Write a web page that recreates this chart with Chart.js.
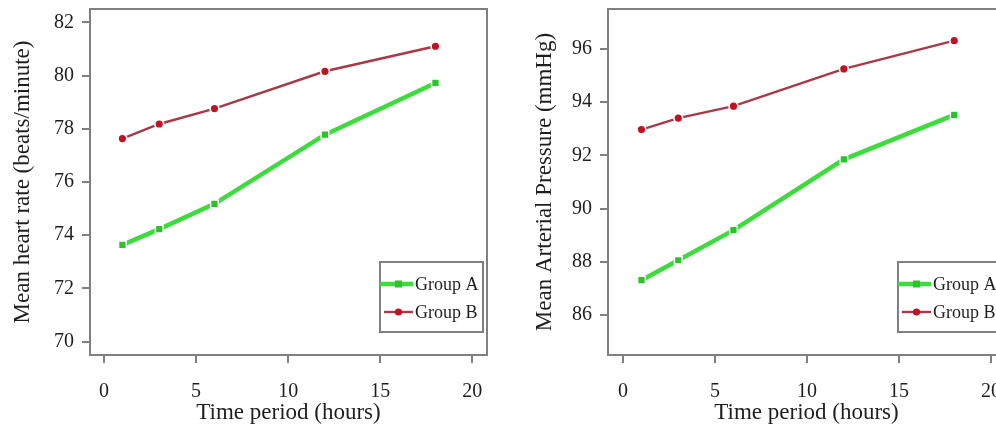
<!DOCTYPE html>
<html>
<head>
<meta charset="utf-8">
<script src="https://cdn.jsdelivr.net/npm/chart.js@4"></script>
<style>
  html, body { margin:0; padding:0; background:#fff; overflow:hidden; width:996px; height:427px; }
  #c1 { position:absolute; left:0; top:0; }
  #c2 { position:absolute; left:500px; top:0; }
</style>
</head>
<body>
<canvas id="c1" width="500" height="427"></canvas>
<canvas id="c2" width="520" height="427"></canvas>
<script>
const hours = [1, 3, 6, 12, 18];
const heartA = [73.64, 74.23, 75.18, 77.78, 79.72];
const heartB = [77.63, 78.18, 78.76, 80.16, 81.10];
const mapA = [87.31, 88.06, 89.19, 91.85, 93.52];
const mapB = [92.97, 93.40, 93.85, 95.25, 96.31];
const xTicks = [0, 5, 10, 15, 20];
const heartTicks = [70, 72, 74, 76, 78, 80, 82];
const mapTicks = [86, 88, 90, 92, 94, 96];
const seriesLabels = ['Group A', 'Group B'];
const xTitle = 'Time period (hours)';
const heartTitle = 'Mean heart rate (beats/minute)';
const mapTitle = 'Mean Arterial Pressure (mmHg)';

const FONT = "'Liberation Serif', 'Times New Roman', serif";
const GREEN = '#3ddc3d', GREEN_PT = '#2ac42a';
const RED = '#a83a48', RED_PT = '#c41022';
const FRAME = '#808080';
const TEXT = '#1e1e1e';

function pts(ys) { return hours.map((h, i) => ({ x: h, y: ys[i] })); }

const framePlugin = {
  id: 'frame',
  beforeDatasetsDraw(chart) {
    const a = chart.chartArea, ctx = chart.ctx;
    ctx.save();
    ctx.strokeStyle = FRAME;
    ctx.lineWidth = 2;
    ctx.strokeRect(a.left, a.top, a.right - a.left, a.bottom - a.top);
    ctx.restore();
  }
};

const boxLegend = {
  id: 'boxLegend',
  afterDatasetsDraw(chart) {
    const a = chart.chartArea, ctx = chart.ctx;
    const L = a.right - 107, T = a.top + 253, W = 103, H = 70;
    ctx.save();
    ctx.fillStyle = '#fff';
    ctx.fillRect(L, T, W, H);
    ctx.strokeStyle = FRAME;
    ctx.lineWidth = 2;
    ctx.strokeRect(L, T, W, H);
    chart.data.datasets.forEach((ds, i) => {
      const y = T + 22 + i * 28;
      ctx.strokeStyle = ds.borderColor;
      ctx.lineWidth = ds.borderWidth;
      ctx.beginPath();
      ctx.moveTo(L + (i === 0 ? 0 : 4), y);
      ctx.lineTo(L + 33, y);
      ctx.stroke();
      ctx.fillStyle = ds.pointBackgroundColor;
      ctx.beginPath();
      if (ds.pointStyle === 'rect') {
        ctx.fillRect(L + 15, y - 3.5, 7, 7);
      } else {
        ctx.arc(L + 18.5, y, 3.6, 0, Math.PI * 2);
        ctx.fill();
      }
      ctx.fillStyle = TEXT;
      ctx.font = '18px ' + FONT;
      ctx.textBaseline = 'middle';
      ctx.textAlign = 'left';
      ctx.fillText(ds.label, L + 35, y + 1);
    });
    ctx.restore();
  }
};

function makeChart(id, ya, yb, yTicks, yMin, yMax, yTitle, xMin, xMax, yWidth, padRight, titleX) {
  new Chart(document.getElementById(id), {
    type: 'line',
    data: {
      datasets: [
        { label: seriesLabels[0], data: pts(ya), borderColor: GREEN, borderWidth: 4.5,
          pointStyle: 'rect', pointRadius: 5.4, pointBackgroundColor: GREEN_PT,
          pointBorderColor: '#fff', pointBorderWidth: 1.4, tension: 0 },
        { label: seriesLabels[1], data: pts(yb), borderColor: RED, borderWidth: 2.4,
          pointStyle: 'circle', pointRadius: 4.4, pointBackgroundColor: RED_PT,
          pointBorderColor: '#fff', pointBorderWidth: 1.6, tension: 0 }
      ]
    },
    options: {
      responsive: false,
      animation: false,
      devicePixelRatio: 1,
      layout: { padding: { left: 0, right: padRight, top: 9, bottom: 0 } },
      plugins: { legend: { display: false }, tooltip: { enabled: false } },
      scales: {
        x: {
          type: 'linear', min: xMin, max: xMax,
          afterBuildTicks(s) { s.ticks = xTicks.map(v => ({ value: v })); },
          afterFit(s) { s.height = 72; s.paddingLeft = 0; s.paddingRight = 0; },
          border: { display: false },
          grid: { drawOnChartArea: false, drawTicks: true, tickLength: 8, color: FRAME, lineWidth: 2 },
          ticks: { font: { family: FONT, size: 20 }, color: TEXT, padding: 17, maxRotation: 0 },
          title: { display: true, text: xTitle, font: { family: FONT, size: 23 }, color: TEXT,
                   padding: { top: 0, bottom: 0 } }
        },
        y: {
          type: 'linear', min: yMin, max: yMax,
          afterBuildTicks(s) { s.ticks = yTicks.map(v => ({ value: v })); },
          afterFit(s) { s.width = yWidth; s.paddingTop = 0; s.paddingBottom = 0; },
          border: { display: false },
          grid: { drawOnChartArea: false, drawTicks: true, tickLength: 8, color: FRAME, lineWidth: 2 },
          ticks: { font: { family: FONT, size: 20 }, color: TEXT, padding: 8 },
          title: { display: true, text: yTitle, font: { family: FONT, size: 23 }, color: TEXT,
                   padding: { top: titleX - 13.8, bottom: 0 } }
        }
      }
    },
    plugins: [framePlugin, boxLegend]
  });
}

makeChart('c1', heartA, heartB, heartTicks, 69.5, 82.5, heartTitle, -0.76, 20.8, 90, 13, 23);
makeChart('c2', mapA, mapB, mapTicks, 84.5, 97.5, mapTitle, -0.82, 20.76, 108, 15, 45);
</script>
</body>
</html>
